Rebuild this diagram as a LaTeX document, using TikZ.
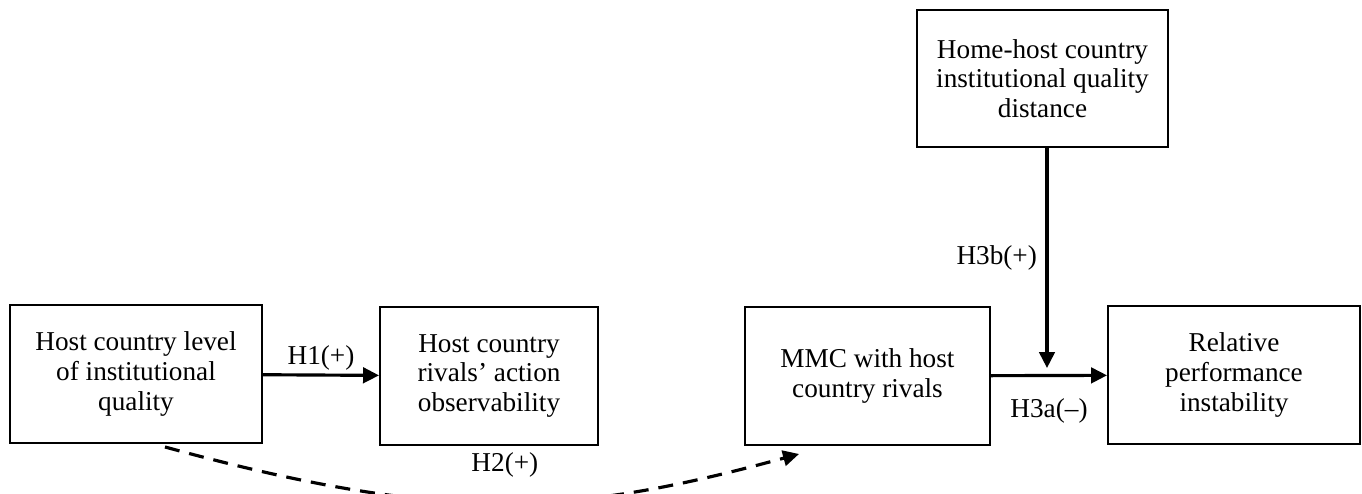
\documentclass[tikz,border=0pt]{standalone}
\usepackage{fontspec}
\setmainfont{Liberation Serif}
\usetikzlibrary{positioning,arrows.meta,calc}
\tikzset{
  cbox/.style={draw=black, line width=1.1pt, align=center, inner sep=4pt,
    minimum height=2.76cm, font=\fontsize{15.5}{16.8}\selectfont},
  hyp/.style={-{Triangle[length=3.2mm, width=3.1mm]}, line width=1.8pt, draw=black},
  hypd/.style={hyp, dash pattern=on 3mm off 2mm},
  hlab/.style={font=\fontsize{15.5}{16.8}\selectfont, inner sep=2pt},
}
\begin{document}
\begin{tikzpicture}
    \useasboundingbox (0,0) rectangle (27.24,-9.86);
    % constructs
    \node[cbox, minimum width=5.04cm] (inst) at (2.72,-7.48) {Host country level\\of institutional\\quality};
    \node[cbox, minimum width=4.36cm] (obs) at (9.78,-7.52) {Host country\\rivals' action\\observability};
    \node[cbox, minimum width=4.9cm] (mmc) at (17.35,-7.52) {MMC with host\\country rivals};
    \node[cbox, minimum width=5.04cm] (perf) at (24.68,-7.5) {Relative\\performance\\instability};
    % moderator
    \node[cbox, minimum width=5.02cm, minimum height=2.74cm] (dist) at (20.85,-1.57) {Home-host country\\institutional quality\\distance};
    \coordinate (modpt) at (20.94,-7.36);
    % hypotheses
    \draw[hyp] (inst) -- node[hlab, above] {H1(+)} (obs);
    \draw[hyp] (mmc) -- node[hlab, below, yshift=-3.6mm] {H3a(--)} (perf);
    \draw[hyp] (dist.south -| modpt) -- node[hlab, left, xshift=-1mm] {H3b(+)} (modpt);
    \draw[hypd] ([xshift=0.58cm, yshift=-0.06cm]inst.south)
      .. controls (9,-10.5) and (11.5,-10.3) ..
      node[hlab, above=4mm] {H2(+)} ([xshift=1.1cm, yshift=-0.16cm]mmc.south west);
\end{tikzpicture}
\end{document}
